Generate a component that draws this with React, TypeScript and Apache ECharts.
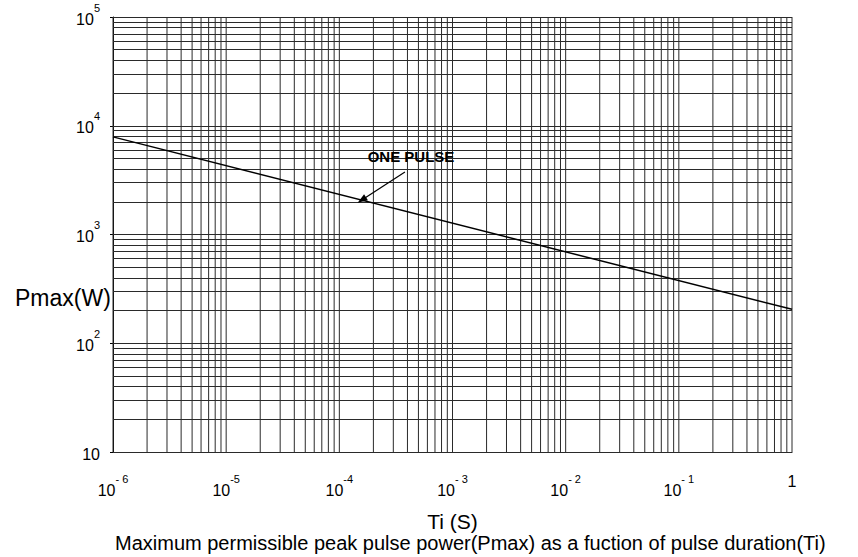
import React, { useEffect, useRef } from "react";
import * as echarts from "echarts";

// Data
const pulseTime = [1e-6, 1];
const pulsePower = [7900, 205];

const xDecadeExponents = [-6, -5, -4, -3, -2, -1];
const yDecadeExponents = [1, 2, 3, 4];
const gridMultipliers = [1, 2, 3, 4, 5, 6, 7, 8, 9];

const xTickExponents = [-6, -5, -4, -3, -2, -1, 0];
const xTickBase = ["10", "10", "10", "10", "10", "10", ""];
const xTickSup = ["- 6", "-5", "-4", "- 3", "- 2", "- 1", ""];
const yTickExponents = [1, 2, 3, 4, 5];
const yTickBase = ["10", "10", "10", "10", "10"];
const yTickSup = ["", "2", "3", "4", "5"];

const arrowStart = [3.8e-4, 3760];
const arrowEnd = [1.58e-4, 2075];
const annotationPos = [4.3e-4, 5160];
const annotationText = "ONE PULSE";

const xName = "Ti (S)";
const yName = "Pmax(W)";
const caption =
  "Maximum permissible peak pulse power(Pmax) as a fuction of pulse duration(Ti)";

const FONT = "'Liberation Sans', Arial, sans-serif";

function buildGrid(exps: number[], last: number) {
  const out: number[] = [];
  exps.forEach((e) => gridMultipliers.forEach((m) => out.push(m * Math.pow(10, e))));
  out.push(last);
  return out;
}

export default function App() {
  const ref = useRef<HTMLDivElement>(null);
  useEffect(() => {
    document.body.style.margin = "0";
    if (!ref.current) return;
    const chart = echarts.init(ref.current, undefined, { renderer: "svg" });
    const xGrid = buildGrid(xDecadeExponents, 1);
    const yGrid = buildGrid(yDecadeExponents, 1e5);
    const yMin = 10;
    const yMax = 1e5;

    const richStyles = {
      b: { fontSize: 16, lineHeight: 25, verticalAlign: "bottom", color: "#000", fontFamily: FONT },
      s: { fontSize: 11, lineHeight: 11, verticalAlign: "top", color: "#000", fontFamily: FONT },
      one: { fontSize: 16, lineHeight: 16, verticalAlign: "top", color: "#000", fontFamily: FONT },
    };

    const xFormatter = (v: number) => {
      const e = Math.round(Math.log10(v));
      const i = xTickExponents.indexOf(e);
      if (i < 0) return "";
      if (e === 0) return "{one|1}";
      return `{b|${xTickBase[i]}}{s|${xTickSup[i]}}`;
    };
    const yFormatter = (v: number) => {
      const e = Math.round(Math.log10(v));
      const i = yTickExponents.indexOf(e);
      if (i < 0) return "";
      return yTickSup[i] ? `{b|${yTickBase[i]}}{s|${yTickSup[i]}}` : `{b|${yTickBase[i]}}`;
    };

    const gridColor = "#2a2a2a";

    const verticalSeries = xGrid.map((v) => ({
      type: "line",
      data: [
        [v, yMin],
        [v, yMax],
      ],
      showSymbol: false,
      symbol: "none",
      silent: true,
      z: 1,
      lineStyle: { color: gridColor, width: 1 },
      emphasis: { disabled: true },
    }));

    chart.setOption({
      animation: false,
      grid: { left: 113, right: 66, top: 17, bottom: 105 },
      xAxis: {
        type: "log",
        logBase: 10,
        min: 1e-6,
        max: 1,
        splitNumber: 6,
        name: xName,
        nameLocation: "middle",
        nameGap: 59,
        nameTextStyle: { fontSize: 21, color: "#000", fontFamily: FONT },
        axisLine: { show: true, lineStyle: { color: "#000", width: 1 } },
        axisTick: { show: false },
        splitLine: { show: false },
        axisLabel: { formatter: xFormatter, margin: 21, rich: richStyles },
      },
      yAxis: {
        type: "log",
        logBase: 10,
        min: yMin,
        max: yMax,
        axisLine: { show: true, lineStyle: { color: "#000", width: 1 } },
        axisTick: { show: true, length: 3, lineStyle: { color: "#000" } },
        splitLine: { show: false },
        axisLabel: { formatter: yFormatter, margin: 13, padding: [0, 0, 5, 0], rich: richStyles },
      },
      graphic: [
        {
          type: "text",
          left: 15,
          top: 286,
          style: { text: yName, fontSize: 23, fill: "#000", fontFamily: FONT },
        },
        {
          type: "text",
          left: 115,
          top: 533,
          style: { text: caption, fontSize: 20, fill: "#000", fontFamily: FONT },
        },
      ],
      series: [
        ...verticalSeries,
        {
          type: "line",
          data: [[1e-6, 10]],
          showSymbol: false,
          symbol: "none",
          silent: true,
          lineStyle: { width: 0 },
          z: 1,
          markLine: {
            silent: true,
            symbol: ["none", "none"],
            label: { show: false },
            lineStyle: { color: gridColor, width: 1, type: "solid" },
            emphasis: { disabled: true },
            data: yGrid.map((v) => ({ yAxis: v })),
          },
        },
        {
          type: "line",
          name: annotationText,
          data: pulseTime.map((t, i) => [t, pulsePower[i]]),
          showSymbol: false,
          symbol: "none",
          lineStyle: { color: "#000", width: 1.5 },
          z: 5,
          markLine: {
            silent: true,
            symbol: ["none", "triangle"],
            symbolSize: [7, 10],
            label: { show: false },
            lineStyle: { color: "#000", width: 1.2, type: "solid" },
            itemStyle: { color: "#000" },
            emphasis: { disabled: true },
            data: [[{ coord: arrowStart }, { coord: arrowEnd }]],
          },
          markPoint: {
            silent: true,
            symbol: "circle",
            symbolSize: 0,
            data: [
              {
                coord: annotationPos,
                label: {
                  show: true,
                  position: "inside",
                  formatter: annotationText,
                  fontWeight: "bold",
                  fontSize: 15,
                  color: "#000",
                  fontFamily: FONT,
                },
              },
            ],
          },
        },
      ],
    });
    return () => chart.dispose();
  }, []);
  return <div ref={ref} style={{ width: 858, height: 557 }} />;
}
